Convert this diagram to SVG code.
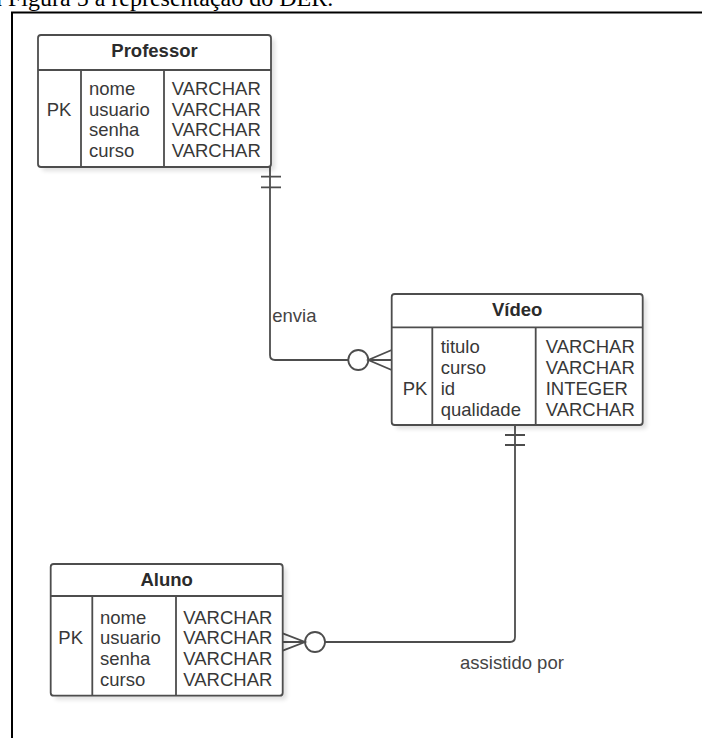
<svg xmlns="http://www.w3.org/2000/svg" width="702" height="738" viewBox="0 0 702 738">
  <defs>
    <filter id="sh" x="-10%" y="-10%" width="130%" height="130%">
      <feGaussianBlur stdDeviation="2"/>
    </filter>
    <style>
      .box { fill: #ffffff; stroke: #4d4d4d; stroke-width: 1.8; }
      .shadow { fill: #000000; opacity: 0.12; filter: url(#sh); }
      .div { stroke: #4d4d4d; stroke-width: 1.8; fill: none; }
      .t { font-family: "Liberation Sans", Arial, sans-serif; font-size: 18.5px; fill: #383838; }
      .title { font-family: "Liberation Sans", Arial, sans-serif; font-size: 18.5px; font-weight: bold; fill: #2b2b2b; text-anchor: middle; }
      .conn { stroke: #4d4d4d; stroke-width: 1.8; fill: none; }
      .circ { stroke: #4d4d4d; stroke-width: 1.8; fill: #ffffff; }
      .lbl { font-family: "Liberation Sans", Arial, sans-serif; font-size: 18.5px; fill: #444444; }
      .cap { font-family: "Liberation Serif", "Times New Roman", serif; font-size: 24px; fill: #000000; }
    </style>
  </defs>
  <rect width="702" height="738" fill="#ffffff"/>

  <text class="cap" x="-8.7" y="6">a Figura 5 a representação do DER.</text>
  <path d="M 12 738 V 12.5 H 702" fill="none" stroke="#000000" stroke-width="2"/>

  <g id="connectors">
    <path class="conn" d="M 270 167 V 355 Q 270 360 275 360 H 348.3"/>
    <path class="conn" d="M 261 176.7 H 281 M 261 187.3 H 281"/>
    <circle class="circ" cx="358.3" cy="360" r="10"/>
    <path class="conn" d="M 391.7 350 L 368.3 360 L 391.7 370 M 368.3 360 H 391.7"/>
    <text class="lbl" x="272.3" y="321.7">envia</text>

    <path class="conn" d="M 515 425 V 637 Q 515 642 510 642 H 325"/>
    <path class="conn" d="M 505 435 H 525 M 505 445 H 525"/>
    <circle class="circ" cx="315" cy="642" r="10"/>
    <path class="conn" d="M 282.7 633.3 L 305 642 L 282.7 650.7 M 282.7 642 H 305"/>
    <text class="lbl" x="460" y="669">assistido por</text>
  </g>

  <g id="professor">
    <rect class="shadow" x="42" y="39" width="233" height="132" rx="3"/>
    <rect class="box" x="38" y="35" width="233" height="132" rx="3"/>
    <path class="div" d="M 38 70 H 271 M 81 70 V 167 M 164 70 V 167"/>
    <text class="title" x="154.5" y="56.7">Professor</text>
    <text class="t" x="46.7" y="115.7">PK</text>
    <text class="t" x="89" y="95">nome</text>
    <text class="t" x="89" y="115.7">usuario</text>
    <text class="t" x="89" y="136.4">senha</text>
    <text class="t" x="89" y="157">curso</text>
    <text class="t" x="171.7" y="95">VARCHAR</text>
    <text class="t" x="171.7" y="115.7">VARCHAR</text>
    <text class="t" x="171.7" y="136.4">VARCHAR</text>
    <text class="t" x="171.7" y="157">VARCHAR</text>
  </g>

  <g id="video">
    <rect class="shadow" x="395.7" y="298" width="251" height="131" rx="3"/>
    <rect class="box" x="391.7" y="294" width="251" height="131" rx="3"/>
    <path class="div" d="M 391.7 327.3 H 642.7 M 432.3 327.3 V 425 M 535.7 327.3 V 425"/>
    <text class="title" x="517.2" y="316">Vídeo</text>
    <text class="t" x="402.7" y="395">PK</text>
    <text class="t" x="440.7" y="353.3">titulo</text>
    <text class="t" x="440.7" y="374">curso</text>
    <text class="t" x="440.7" y="395">id</text>
    <text class="t" x="440.7" y="416">qualidade</text>
    <text class="t" x="545.7" y="353.3">VARCHAR</text>
    <text class="t" x="545.7" y="374">VARCHAR</text>
    <text class="t" x="545.7" y="395">INTEGER</text>
    <text class="t" x="545.7" y="416">VARCHAR</text>
  </g>

  <g id="aluno">
    <rect class="shadow" x="54.7" y="568" width="232" height="131.7" rx="3"/>
    <rect class="box" x="50.7" y="564" width="232" height="131.7" rx="3"/>
    <path class="div" d="M 50.7 596 H 282.7 M 92.3 596 V 695.7 M 176 596 V 695.7"/>
    <text class="title" x="166.7" y="586">Aluno</text>
    <text class="t" x="58.3" y="644.3">PK</text>
    <text class="t" x="100" y="623.5">nome</text>
    <text class="t" x="100" y="644.3">usuario</text>
    <text class="t" x="100" y="665">senha</text>
    <text class="t" x="100" y="686">curso</text>
    <text class="t" x="183.3" y="623.5">VARCHAR</text>
    <text class="t" x="183.3" y="644.3">VARCHAR</text>
    <text class="t" x="183.3" y="665">VARCHAR</text>
    <text class="t" x="183.3" y="686">VARCHAR</text>
  </g>
</svg>
